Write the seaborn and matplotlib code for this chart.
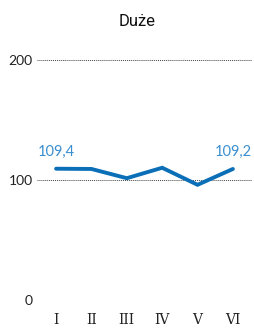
import pandas as pd
import matplotlib.pyplot as plt
import seaborn as sns

# Values
months = ['I', 'II', 'III', 'IV', 'V', 'VI']
values = [109.4, 109.2, 101.5, 110.2, 96.0, 109.2]
yticks = [0, 100, 200]

sns.set_style('white')
plt.rcParams['font.family'] = ['Lato', 'DejaVu Sans']

df = pd.DataFrame({'month': months, 'value': values, 'pos': range(len(months))})

fig = plt.figure(figsize=(2.54, 3.29), dpi=100)
ax = fig.add_axes([37 / 254, 1 - 300 / 329, 215 / 254, 240 / 329])

for y in yticks:
    ax.axhline(y, color='#444444', lw=0.7, ls=(0, (1, 1)), zorder=1)

sns.lineplot(x='pos', y='value', data=df, ax=ax, color='#0b6fb8', lw=2.8,
             solid_joinstyle='miter', zorder=3)

ax.set_xlim(-0.54, 5.54)
ax.set_ylim(0, 200)
ax.set_xticks(df['pos'])
ax.set_xticklabels(months, fontsize=10, family='DejaVu Serif', color='#222222')
ax.set_yticks(yticks)
ax.set_yticklabels([str(v) for v in yticks], fontsize=10, color='#222222')
ax.tick_params(axis='both', length=0)
ax.tick_params(axis='y', pad=3)
ax.tick_params(axis='x', pad=9)
ax.set_xlabel('')
ax.set_ylabel('')
sns.despine(ax=ax, left=True, bottom=True)
ax.patch.set_alpha(0)

# first and last value labels
for i in [0, len(values) - 1]:
    ax.text(df['pos'][i], values[i] + 8, f'{values[i]:.1f}'.replace('.', ','),
            ha='center', va='bottom', fontsize=10.5, color='#3a8fd0')

fig.text(137 / 254, 1 - 21 / 329, 'Duże', ha='center', va='center',
         fontsize=12, color='#111111', family='Roboto')

plt.savefig('out.png', dpi=100)
